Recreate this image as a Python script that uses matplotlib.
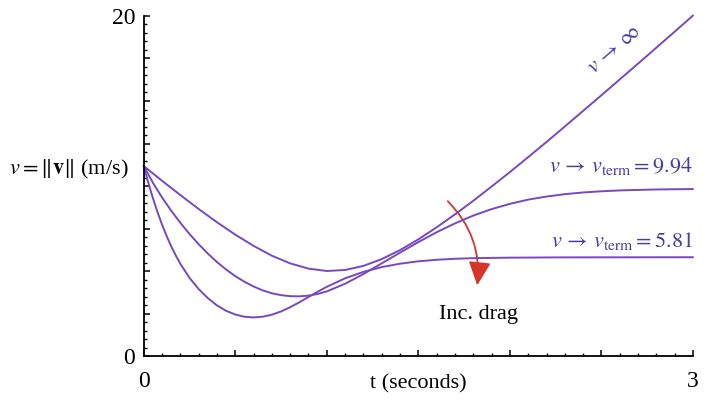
import matplotlib
matplotlib.use("Agg")
import matplotlib.pyplot as plt
from matplotlib.patches import FancyArrowPatch
from matplotlib.ticker import MultipleLocator

plt.rcParams['font.family'] = ['Liberation Serif', 'DejaVu Serif']
plt.rcParams['mathtext.fontset'] = 'stix'

# speed (m/s), no drag
t_free = [0.0, 0.1, 0.2, 0.3, 0.4, 0.5, 0.6, 0.7, 0.8, 0.9, 1.0, 1.1, 1.2, 1.3, 1.4, 1.5,
          1.6, 1.7, 1.8, 1.9, 2.0, 2.1, 2.2, 2.3, 2.4, 2.5, 2.6, 2.7, 2.8, 2.9, 3.0]
v_free = [11.18, 10.31, 9.47, 8.65, 7.87, 7.14, 6.48, 5.90, 5.45, 5.14, 5.00, 5.06, 5.30,
          5.70, 6.23, 6.86, 7.57, 8.33, 9.13, 9.97, 10.82, 11.70, 12.59, 13.50, 14.42,
          15.34, 16.27, 17.20, 18.14, 19.08, 20.03]

# light drag, terminal speed 9.94
t_light = [0.0, 0.05, 0.1, 0.15, 0.2, 0.25, 0.3, 0.35, 0.4, 0.45, 0.5, 0.55, 0.6, 0.65,
           0.7, 0.75, 0.8, 0.85, 0.9, 0.95, 1.0, 1.1, 1.2, 1.3, 1.4, 1.5, 1.6, 1.7, 1.8,
           1.9, 2.0, 2.1, 2.2, 2.3, 2.4, 2.5, 2.6, 2.7, 2.8, 2.9, 3.0]
v_light = [11.18, 10.2, 9.33, 8.55, 7.84, 7.18, 6.58, 6.03, 5.53, 5.09, 4.7, 4.37, 4.09,
           3.86, 3.69, 3.58, 3.52, 3.51, 3.55, 3.65, 3.8, 4.25, 4.82, 5.45, 6.08, 6.7,
           7.28, 7.8, 8.26, 8.64, 8.95, 9.2, 9.38, 9.52, 9.62, 9.69, 9.74, 9.77, 9.795,
           9.81, 9.82]

# heavy drag, terminal speed 5.81
t_heavy = [0.0, 0.025, 0.05, 0.075, 0.1, 0.125, 0.15, 0.175, 0.2, 0.25, 0.3, 0.35, 0.4,
           0.45, 0.5, 0.55, 0.6, 0.65, 0.7, 0.75, 0.8, 0.85, 0.9, 0.95, 1.0, 1.1, 1.2,
           1.3, 1.4, 1.5, 1.6, 1.7, 1.8, 2.0, 2.25, 2.5, 3.0]
v_heavy = [11.18, 10.2, 9.3, 8.48, 7.74, 7.07, 6.46, 5.92, 5.43, 4.6, 3.94, 3.41, 2.98,
           2.66, 2.44, 2.31, 2.27, 2.31, 2.43, 2.62, 2.87, 3.16, 3.47, 3.78, 4.07, 4.57,
           4.95, 5.23, 5.43, 5.57, 5.66, 5.72, 5.755, 5.785, 5.8, 5.805, 5.81]

curve_col = '#7848c0'
text_col = '#4a3aa2'

fig = plt.figure(figsize=(7.06, 4.04), dpi=100)
ax = fig.add_axes([0.2035, 0.1188, 0.7781, 0.8416])

for t, v in [(t_free, v_free), (t_light, v_light), (t_heavy, v_heavy)]:
    ax.plot(t, v, color=curve_col, lw=1.4, clip_on=False, solid_capstyle='round',
            solid_joinstyle='round')

ax.set_xlim(0, 3)
ax.set_ylim(0, 20)
for s in ['top', 'right']:
    ax.spines[s].set_visible(False)
for s in ['left', 'bottom']:
    ax.spines[s].set_linewidth(1.3)

ax.xaxis.set_major_locator(MultipleLocator(0.5))
ax.xaxis.set_minor_locator(MultipleLocator(0.1))
ax.yaxis.set_major_locator(MultipleLocator(2.5))
ax.yaxis.set_minor_locator(MultipleLocator(0.5))
ax.tick_params(which='major', direction='in', length=4, width=1.1, labelsize=17)
ax.tick_params(which='minor', direction='in', length=2.5, width=1.0)
ax.tick_params(axis='x', pad=11)
ax.tick_params(axis='y', pad=6)
ax.set_xticklabels(['0' if x == 0 else '3' if x == 3 else '' for x in ax.get_xticks()])
ax.set_yticklabels(['0' if y == 0 else '20' if y == 20 else '' for y in ax.get_yticks()])

ax.text(-0.085, 11.0, r'$v = \|\mathbf{v}\|$ (m/s)', ha='right', va='center',
        fontsize=16, clip_on=False)
ax.text(1.5, -1.65, 't (seconds)', ha='center', va='center', fontsize=16, clip_on=False)

ax.text(3.0, 11.15, r'$v\,\rightarrow\,v_{\mathrm{term}} = 9.94$', ha='right',
        va='center', fontsize=16, color=text_col)
ax.text(3.0, 6.75, r'$v\,\rightarrow\,v_{\mathrm{term}} = 5.81$', ha='right',
        va='center', fontsize=16, color=text_col)
ax.text(2.574, 18.0, r'$v\,\rightarrow\,\infty$', ha='center', va='center',
        fontsize=16, color=text_col, rotation=41)

arr = FancyArrowPatch((1.65, 9.22), (1.82, 4.0), connectionstyle='arc3,rad=-0.25',
                      arrowstyle='-|>,head_length=0.8,head_width=0.38',
                      mutation_scale=18, color='#d8352a', lw=1.3)
ax.add_patch(arr)
ax.text(1.83, 2.45, 'Inc. drag', ha='center', va='center', fontsize=16)

fig.savefig('out.png', dpi=100)
